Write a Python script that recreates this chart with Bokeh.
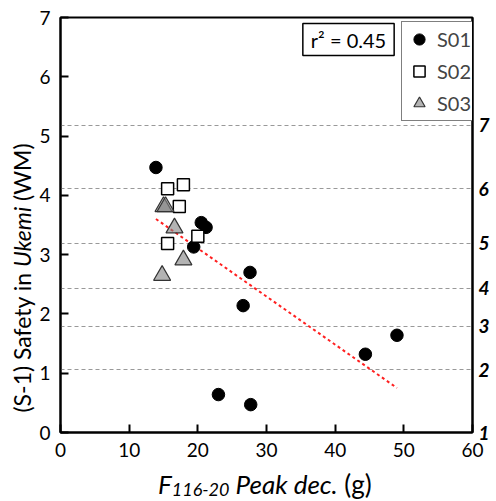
from bokeh.plotting import figure
from bokeh.models import (Range1d, LinearAxis, FixedTicker, Label, Legend, LegendItem, Div)
from bokeh.layouts import row, column
from bokeh.embed import file_html
from bokeh.resources import INLINE

# ---- data ----
s01_x = [13.9, 20.5, 21.2, 19.4, 27.6, 26.6, 23.0, 27.7, 44.4, 49.0]
s01_y = [4.47, 3.54, 3.46, 3.13, 2.70, 2.14, 0.64, 0.47, 1.32, 1.64]
s02_x = [15.6, 17.9, 17.3, 15.6, 20.0]
s02_y = [4.11, 4.18, 3.81, 3.19, 3.31]
s03_x = [15.0, 15.3, 16.6, 17.9, 14.8]
s03_y = [3.81, 3.81, 3.45, 2.91, 2.65]

# linear fit
fit_slope = -0.0812
fit_intercept = 4.73
r2_text = "r\u00b2 = 0.45"

x_ticks = [0, 10, 20, 30, 40, 50, 60]
y_ticks = [0, 1, 2, 3, 4, 5, 6, 7]
# right (WM) scale: labels and their positions on the left scale
wm_labels = ["1", "2", "3", "4", "5", "6", "7"]
wm_pos = [0.0, 1.06, 1.79, 2.43, 3.19, 4.11, 5.18]

FONT = "Lato"

p = figure(width=460, height=470, output_backend="svg", toolbar_location=None,
           x_range=Range1d(0, 60), y_range=Range1d(0, 7),
           min_border_left=23, min_border_right=24, min_border_top=17, min_border_bottom=38)
p.background_fill_color = "white"
p.border_fill_color = "white"
p.outline_line_color = "black"
p.outline_line_width = 2

p.xgrid.visible = False
p.ygrid.ticker = FixedTicker(ticks=wm_pos)
p.ygrid.grid_line_color = "#999999"
p.ygrid.grid_line_dash = "4 3"
p.ygrid.grid_line_width = 1.2

for ax, ticks in ((p.xaxis[0], x_ticks), (p.yaxis[0], y_ticks)):
    ax.ticker = FixedTicker(ticks=ticks)
    ax.major_tick_in = 8
    ax.major_tick_out = 0
    ax.minor_tick_line_color = None
    ax.major_tick_line_width = 2
    ax.axis_line_width = 2
    ax.axis_line_color = "black"
    ax.major_label_text_font = FONT
    ax.major_label_text_font_size = "19px"
    ax.major_label_text_color = "black"
    ax.major_label_standoff = 10

rax = LinearAxis(ticker=FixedTicker(ticks=wm_pos),
                 major_label_overrides={pos: lab for pos, lab in zip(wm_pos, wm_labels)})
rax.major_tick_in = 0
rax.major_tick_out = 0
rax.minor_tick_line_color = None
rax.axis_line_width = 2
rax.axis_line_color = "black"
rax.major_label_text_font = FONT
rax.major_label_text_font_size = "19px"
rax.major_label_text_font_style = "bold italic"
rax.major_label_text_color = "black"
rax.major_label_standoff = 6
p.add_layout(rax, "right")

# fit line
fx0 = min(s01_x + s02_x + s03_x)
fx1 = max(s01_x + s02_x + s03_x)
p.line([fx0, fx1], [fit_intercept + fit_slope * fx0, fit_intercept + fit_slope * fx1],
       line_color="#ff2020", line_width=2, line_dash="3 3")

r1 = p.scatter(s01_x, s01_y, marker="circle", size=12.5, fill_color="black", line_color="black")
r2 = p.scatter(s02_x, s02_y, marker="square", size=12, fill_color="white", line_color="black", line_width=1.5)
r3 = p.scatter(s03_x, s03_y, marker="triangle", size=17, fill_color="#808080", fill_alpha=0.6,
               line_color="#333333", line_width=1.2)

legend = Legend(items=[LegendItem(label="S01", renderers=[r1]),
                       LegendItem(label="S02", renderers=[r2]),
                       LegendItem(label="S03", renderers=[r3])],
                location=(341, 311), margin=0, padding=3, spacing=4,
                glyph_width=28, glyph_height=28, label_standoff=4,
                label_text_font=FONT, label_text_font_size="20px",
                border_line_color="black", border_line_width=1.5,
                background_fill_color="white", background_fill_alpha=1)
p.add_layout(legend, "center")

# r^2 box
p.add_layout(Label(x=288, y=393, x_units="screen", y_units="screen", text=r2_text,
                   text_align="center", text_baseline="middle", text_line_height=1.0,
                   text_font=FONT, text_font_size="20px", text_color="black",
                   background_fill_color="white", border_line_color="black",
                   border_line_width=1.5, padding=(8, 4)))

# axis titles as HTML text (mixed italic / subscript)
ydiv = Div(width=36, height=470, margin=0,
           text=('<div style="position:absolute; left:22px; top:278px; '
                 'transform:translate(-50%,-50%) rotate(-90deg); white-space:nowrap; '
                 'font-family:Lato; font-size:23px; color:black; line-height:1;">'
                 '(S-1) Safety in <i>Ukemi</i> (WM)</div>'))
xdiv = Div(width=496, height=31, margin=0,
           text=('<div style="position:absolute; left:158px; top:1px; white-space:nowrap; '
                 'font-family:Lato; font-size:26px; color:black; line-height:1;">'
                 '<i>F<span style="font-size:18px; position:relative; top:2px;">116-20</span> '
                 'Peak dec.</i> (g)</div>'))

layout = column(row(ydiv, p, spacing=0), xdiv, spacing=0)
open("out.html", "w").write(file_html(layout, INLINE))
